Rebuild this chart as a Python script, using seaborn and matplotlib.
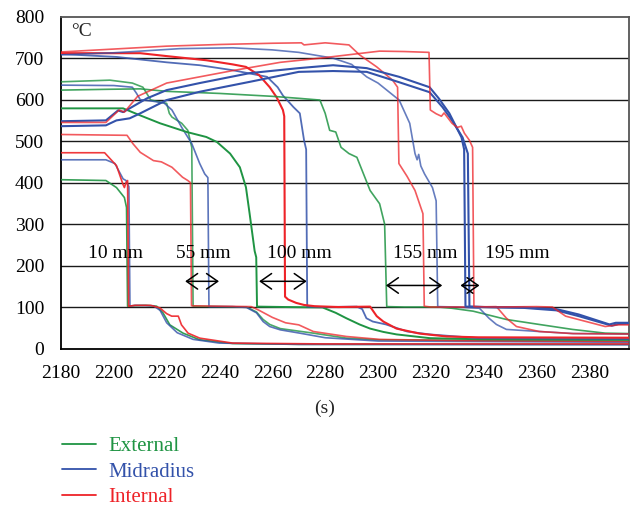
import matplotlib
matplotlib.use("Agg")
import matplotlib.pyplot as plt
import seaborn as sns
import pandas as pd
from matplotlib.lines import Line2D

# ---------------- data ----------------
xticks = [2180, 2200, 2220, 2240, 2260, 2280, 2300, 2320, 2340, 2360, 2380]
yticks = [0, 100, 200, 300, 400, 500, 600, 700, 800]
legend_labels = ["External", "Midradius", "Internal"]

# 10 mm
G10_t = [2180, 2197, 2201, 2204, 2204.8, 2205.2, 2207, 2212, 2216.2, 2218.6, 2221.2, 2226.2, 2232.5, 2245, 2270, 2395]
G10_v = [407, 405, 388, 364, 340, 102, 103, 104, 102, 86, 57, 37, 21, 12, 10, 10]
B10_t = [2180, 2197, 2200.4, 2203.5, 2204.6, 2205.7, 2206.1, 2208, 2215, 2217.5, 2220, 2224, 2230, 2240, 2270, 2395]
B10_v = [455, 455, 446, 409, 405, 390, 102, 104, 103, 92, 62, 38, 22, 13, 10, 9]
R10_t = [2180, 2196.5, 2201, 2203.5, 2204, 2204.6, 2205.2, 2205.6, 2208, 2214, 2217.4, 2220, 2221.9, 2224.4, 2225.6, 2228.1, 2232.5, 2245, 2280, 2395]
R10_v = [472, 472, 441, 395, 388, 400, 405, 102, 104, 104, 98, 84, 78, 78, 57, 37, 25, 13, 11, 11]

# 55 mm
G55_t = [2180, 2198.5, 2207, 2211, 2214, 2217, 2220, 2221, 2222, 2225.7, 2228, 2229.5, 2230, 2240, 2250.2, 2254, 2256.5, 2259, 2263, 2275.5, 2288, 2300, 2395]
G55_v = [643, 647, 640, 630, 599, 595, 591, 567, 558, 543, 526, 485, 102, 101, 100, 88, 70, 58, 48, 37, 25, 21, 18]
B55_t = [2180, 2200, 2207, 2208.6, 2210, 2215, 2219, 2222, 2225.7, 2229.5, 2232.5, 2234.4, 2235.6, 2236, 2245, 2250.2, 2254, 2256.5, 2259, 2263, 2270.4, 2280, 2300, 2395]
B55_v = [635, 634, 630, 615, 600, 596, 592, 575, 533, 494, 446, 421, 412, 101, 101, 99, 86, 65, 53, 45, 37, 26, 18, 15]
R55_t = [2180, 2205, 2207.2, 2210, 2215, 2218, 2222, 2226, 2228, 2229, 2229.4, 2240, 2252, 2255, 2260, 2265, 2270, 2275.5, 2288, 2300.6, 2330, 2395]
R55_v = [516, 514, 494, 473, 453, 450, 437, 413, 405, 400, 103, 102, 101, 92, 75, 62, 57, 41, 29, 22, 19, 17]

# 100 mm
G100_t = [2180, 2203.5, 2210, 2217.5, 2227.6, 2235, 2239, 2244, 2247.7, 2250, 2251.4, 2253.3, 2253.9, 2254.2, 2265, 2279, 2284, 2288, 2293, 2297, 2302, 2307, 2319.5, 2340, 2395]
G100_v = [579, 579, 562, 543, 522, 510, 498, 470, 437, 389, 325, 235, 220, 101, 100, 99, 86, 73, 58, 48, 40, 34, 25, 22, 21]
B100_t = [2180, 2201, 2220, 2232.5, 2245, 2258, 2262, 2264, 2268, 2270.4, 2272, 2272.8, 2273.2, 2280, 2292, 2294, 2295.6, 2298, 2303, 2311, 2319.5, 2338, 2395]
B100_v = [710, 703, 690, 683, 671, 655, 630, 610, 582, 567, 502, 480, 101, 100, 101, 95, 73, 65, 58, 41, 34, 25, 23]
R100_t = [2180, 2210, 2220, 2235, 2245, 2250, 2255, 2259, 2261.6, 2264, 2264.5, 2264.8, 2266, 2269, 2272, 2276, 2285, 2297, 2299.5, 2302, 2307, 2315.7, 2326, 2338, 2395]
R100_v = [712, 712, 705, 695, 685, 679, 659, 630, 606, 575, 560, 125, 118, 110, 105, 102, 100, 101, 78, 65, 48, 36, 29, 27, 26]

# 155 mm
G155_t = [2180, 2198, 2210, 2220, 2240, 2260, 2270.4, 2278, 2280, 2281.7, 2284, 2286, 2289, 2292, 2294, 2297, 2300.6, 2302.5, 2303.3, 2310, 2323, 2328, 2336, 2348.6, 2361, 2373.6, 2386, 2395]
G155_v = [623, 625, 626, 620, 615, 608, 603, 599, 567, 526, 522, 485, 470, 461, 429, 381, 349, 300, 101, 100, 100, 97, 90, 70, 58, 46, 37, 36]
B155_t = [2180, 2200, 2225, 2245, 2260, 2270, 2283, 2290, 2295.7, 2300, 2308, 2312, 2314, 2314.8, 2315.4, 2316.2, 2317.6, 2320.6, 2322, 2322.6, 2330, 2338.4, 2342, 2344.8, 2348.6, 2361, 2374, 2395]
B155_v = [708, 713, 723, 725, 720, 714, 700, 685, 655, 640, 599, 543, 470, 455, 468, 440, 421, 388, 356, 101, 100, 97, 73, 58, 46, 41, 36, 35]
R155_t = [2180, 2200, 2220, 2240, 2260, 2271, 2272, 2280, 2289, 2293, 2299.5, 2305.5, 2307.4, 2307.9, 2311, 2314, 2317, 2317.5, 2320, 2335, 2344.8, 2348.6, 2352.4, 2361, 2373.6, 2395]
R155_v = [715, 722, 729, 733, 736, 737, 732, 737, 732, 708, 679, 647, 630, 446, 415, 381, 325, 102, 100, 100, 101, 73, 53, 41, 36, 35]

# 195 mm
B195a_t = [2180, 2197, 2201.6, 2203.5, 2206, 2212.5, 2220, 2232.5, 2251.5, 2270, 2283, 2295.7, 2308, 2319.5, 2323, 2327, 2329.7, 2331.6, 2332.6, 2333.1, 2340, 2355, 2367.5, 2376, 2387.6, 2390, 2395]
B195a_v = [548, 550, 574, 570, 579, 603, 623, 640, 664, 676, 683, 676, 655, 630, 603, 567, 533, 509, 480, 101, 100, 99, 95, 82, 58, 62, 62]
B195b_t = [2180, 2197, 2201, 2206, 2210, 2220, 2232.5, 2251.5, 2270, 2283, 2295.7, 2308, 2319.5, 2324.4, 2328, 2332, 2334, 2334.6, 2340, 2355, 2367.5, 2376, 2388.5, 2391, 2395]
B195b_v = [536, 538, 550, 555, 567, 599, 619, 643, 667, 669, 667, 642, 618, 582, 550, 509, 470, 101, 100, 98, 92, 78, 55, 59, 60]
R195_t = [2180, 2197, 2202, 2204, 2209, 2220, 2245, 2263, 2278, 2300.6, 2310, 2319.3, 2319.8, 2322, 2324, 2325, 2328, 2330, 2331.5, 2332.7, 2334.6, 2335.8, 2336.3, 2345, 2360, 2366, 2371, 2386, 2391, 2395]
R195_v = [545, 545, 575, 570, 608, 640, 670, 690, 700, 717, 716, 714, 575, 566, 560, 568, 543, 533, 536, 519, 502, 485, 101, 100, 101, 100, 78, 53, 57, 57]

# arrows: (label, left, right, level)
arrow_labels = ["10 mm", "55 mm", "100 mm", "155 mm", "195 mm"]
label_x = [2200.8, 2233.7, 2270.4, 2317.8, 2352.8]
arrow_left = [None, 2227.0, 2255.0, 2303.0, 2331.2]
arrow_right = [None, 2239.8, 2273.0, 2324.3, 2338.4]
arrow_level = [None, 162, 162, 152, 152]

GREEN = "#1f9443"
BLUE = "#3352aa"
RED = "#ee2328"

series = [
    (G10_t, G10_v, GREEN, 1.2, 0.9), (B10_t, B10_v, BLUE, 1.2, 0.8), (R10_t, R10_v, RED, 1.2, 0.9),
    (G55_t, G55_v, GREEN, 1.2, 0.8), (B55_t, B55_v, BLUE, 1.2, 0.8), (R55_t, R55_v, RED, 1.2, 0.75),
    (G100_t, G100_v, GREEN, 1.4, 1.0), (B100_t, B100_v, BLUE, 1.3, 0.85), (R100_t, R100_v, RED, 1.5, 1.0),
    (G155_t, G155_v, GREEN, 1.2, 0.85), (B155_t, B155_v, BLUE, 1.2, 0.75), (R155_t, R155_v, RED, 1.2, 0.75),
    (B195a_t, B195a_v, BLUE, 1.5, 1.0), (B195b_t, B195b_v, BLUE, 1.5, 1.0), (R195_t, R195_v, RED, 1.2, 0.75),
]

# ---------------- plotting ----------------
sns.set_theme(style="white")
plt.rcParams["font.family"] = ["Liberation Serif", "DejaVu Serif"]
FS = 14
LFS = 15

fig = plt.figure(figsize=(6.32, 5.07), dpi=100)
ax = fig.add_axes([61 / 632, 1 - 348.5 / 507, 568 / 632, 331.8 / 507])

for t, v, c, lw, a in series:
    df = pd.DataFrame({"t": t, "v": v})
    sns.lineplot(data=df, x="t", y="v", ax=ax, color=c, lw=lw, alpha=a,
                 estimator=None, sort=False, legend=False, zorder=3)

ax.set_xlim(2180, 2395)
ax.set_ylim(0, 800)
ax.set_xticks(xticks)
ax.set_yticks(yticks)
ax.set_xlabel("")
ax.set_ylabel("")
for yv in yticks[1:-1]:
    ax.axhline(yv, color="#1a1a1a", lw=1.0, zorder=1)

for s in ["left", "bottom"]:
    ax.spines[s].set_color("black")
    ax.spines[s].set_linewidth(1.3)
for s in ["top", "right"]:
    ax.spines[s].set_color("#555555")
    ax.spines[s].set_linewidth(1.3)

ax.tick_params(axis="both", direction="out", length=4, width=1.0, color="black",
               labelsize=FS, labelcolor="black")
ax.tick_params(axis="y", pad=8)
ax.tick_params(axis="x", pad=8)

# annotations
for lab, lx, al, ar, lv in zip(arrow_labels, label_x, arrow_left, arrow_right, arrow_level):
    ax.text(lx, 230, lab, ha="center", va="center", fontsize=FS, color="black", zorder=5)
    if al is not None:
        ax.annotate("", xy=(al, lv), xytext=(ar, lv),
                    arrowprops=dict(arrowstyle="<->,head_length=0.5,head_width=0.35",
                                    color="black", lw=1.1,
                                    shrinkA=0, shrinkB=0, mutation_scale=16), zorder=5)

ax.text(0.018, 0.955, "°C", transform=ax.transAxes, ha="left", va="center", fontsize=FS)
fig.text(325 / 632, 1 - 408 / 507, "(s)", ha="center", va="center", fontsize=FS)

# legend
handles = [Line2D([0], [0], color=GREEN, lw=1.3),
           Line2D([0], [0], color=BLUE, lw=1.3),
           Line2D([0], [0], color=RED, lw=1.3)]
leg = fig.legend(handles, legend_labels, loc="upper left",
                 bbox_to_anchor=(43 / 632, 1 - 418 / 507), frameon=False,
                 fontsize=LFS, handlelength=1.65, handletextpad=0.6,
                 labelspacing=0.28, labelcolor="linecolor")

fig.savefig("out.png", dpi=100)
